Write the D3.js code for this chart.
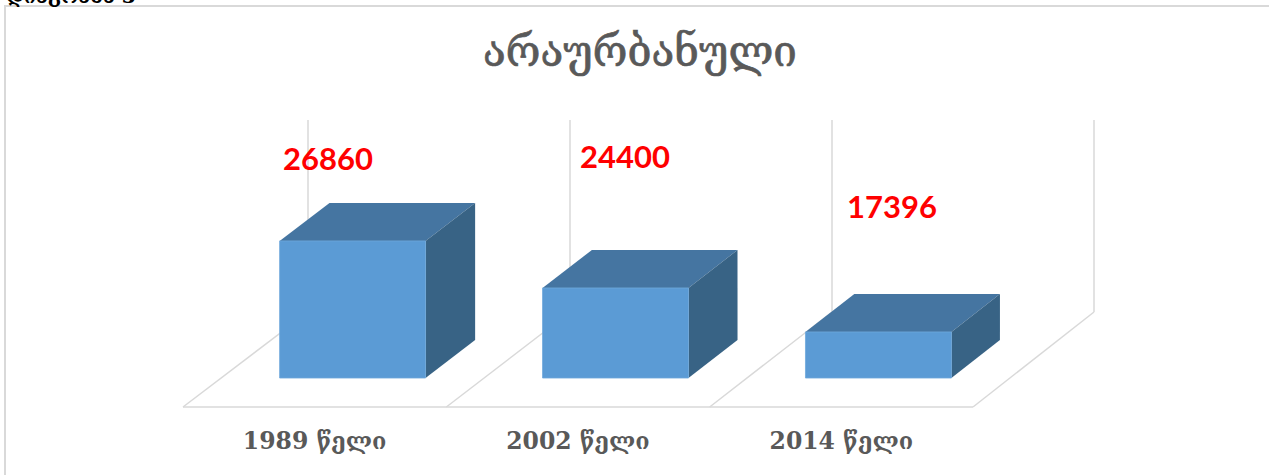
<!DOCTYPE html>
<html><head><meta charset="utf-8">
<script src="https://cdn.jsdelivr.net/npm/d3@7"></script>
<style>html,body{margin:0;padding:0;background:#fff;overflow:hidden}</style>
</head><body>
<svg id="chart" width="1269" height="475"></svg>
<script>
// ---- data ----
const title = "არაურბანული";
const categories = ["1989 წელი", "2002 წელი", "2014 წელი"];
const labelValues = [26860, 24400, 17396];          // manually typed data labels
const plottedValues = [71.4, 46.9, 24.0];           // bar heights as % of hidden value axis
const axisDomain = [0, 100];

// ---- layout ----
const W = 1269, H = 475;
const svg = d3.select("#chart");
const frontY = 407, depthPx = 95, wallTop = 120;
const xFront = d3.scaleBand().domain(categories).range([183, 973]).paddingInner(0).paddingOuter(0);
const xBack  = d3.scaleBand().domain(categories).range([308, 1094]).paddingInner(0).paddingOuter(0);
const hScale = d3.scaleLinear().domain(axisDomain).range([0, frontY - depthPx - wallTop]);
const barFrac = 0.555, d0 = 0.305, d1 = 0.705;
const grid = "#d9d9d9";

function P(cat, fx, d, h) {
  const xf = xFront(cat) + fx * xFront.bandwidth();
  const xb = xBack(cat) + fx * xBack.bandwidth();
  return [xf + (xb - xf) * d, frontY - d * depthPx - h];
}

// outer border
svg.append("path").attr("d", `M5,${H+5} L5,6 L${W+5},6`).attr("fill","none")
  .attr("stroke", grid).attr("stroke-width", 2);

// heading text above the chart (cut off by the page top, as in the source)
svg.append("text").attr("x", 6).attr("y", 3).attr("font-family","DejaVu Serif")
  .attr("font-size", 20).attr("font-weight","bold").attr("fill","#000").text("დიაგრამა 3");

// title
const t = svg.append("text").attr("x", 640).attr("y", 66).attr("text-anchor","middle")
  .attr("font-family","DejaVu Serif").attr("font-size", 33).attr("fill","#595959")
  .attr("stroke", "#595959").attr("stroke-width", 0.7).text(title);
const tw = t.node().getComputedTextLength();
t.attr("font-size", 33 * 314 / tw);

// back wall vertical gridlines
const backEdges = categories.map(c => xBack(c)).concat([xBack.range()[1]]);
svg.append("g").selectAll("line").data(backEdges).join("line")
  .attr("x1", d => d).attr("x2", d => d).attr("y1", wallTop).attr("y2", frontY - depthPx)
  .attr("stroke", grid).attr("stroke-width", 1.5);

// floor
const fg = svg.append("g").attr("fill","none").attr("stroke", grid).attr("stroke-width", 1.5);
fg.append("line").attr("x1", xFront.range()[0]).attr("x2", xFront.range()[1])
  .attr("y1", frontY).attr("y2", frontY);
const frontEdges = categories.map(c => xFront(c)).concat([xFront.range()[1]]);
fg.selectAll("line.diag").data(frontEdges).join("line").attr("class","diag")
  .attr("x1", d => d).attr("y1", frontY)
  .attr("x2", (d, i) => backEdges[i]).attr("y2", frontY - depthPx);

// bars
const pad = (1 - barFrac) / 2;
const bars = svg.append("g");
categories.forEach((c, i) => {
  const h = hScale(plottedValues[i]);
  const fl = pad, fr = 1 - pad;
  const pts = (arr) => arr.map(p => p.join(",")).join(" ");
  const g = bars.append("g");
  g.append("polygon").attr("points", pts([P(c,fl,d0,h), P(c,fr,d0,h), P(c,fr,d1,h), P(c,fl,d1,h)]))
    .attr("fill", "#4575a1");
  g.append("polygon").attr("points", pts([P(c,fr,d0,0), P(c,fr,d1,0), P(c,fr,d1,h), P(c,fr,d0,h)]))
    .attr("fill", "#386385");
  g.append("polygon").attr("points", pts([P(c,fl,d0,0), P(c,fr,d0,0), P(c,fr,d0,h), P(c,fl,d0,h)]))
    .attr("fill", "#5b9bd5").attr("stroke", "#6fa8dc").attr("stroke-width", 0.8);
});

// category labels
svg.append("g").selectAll("text").data(categories).join("text")
  .attr("x", d => xFront(d) + xFront.bandwidth()/2).attr("y", 449)
  .attr("text-anchor","middle").attr("font-family","DejaVu Serif").attr("font-weight","bold")
  .attr("font-size", 23.5).attr("fill","#595959").text(d => d);

// manual red data labels (text boxes)
const labelPos = [[283, 170], [580, 168], [847, 218]];
svg.append("g").selectAll("text").data(labelValues).join("text")
  .attr("x", (d,i) => labelPos[i][0]).attr("y", (d,i) => labelPos[i][1])
  .attr("font-family","Lato").attr("font-weight","bold").attr("font-size", 31)
  .attr("fill","#ff0000").text(d => d);
</script>
</body></html>
